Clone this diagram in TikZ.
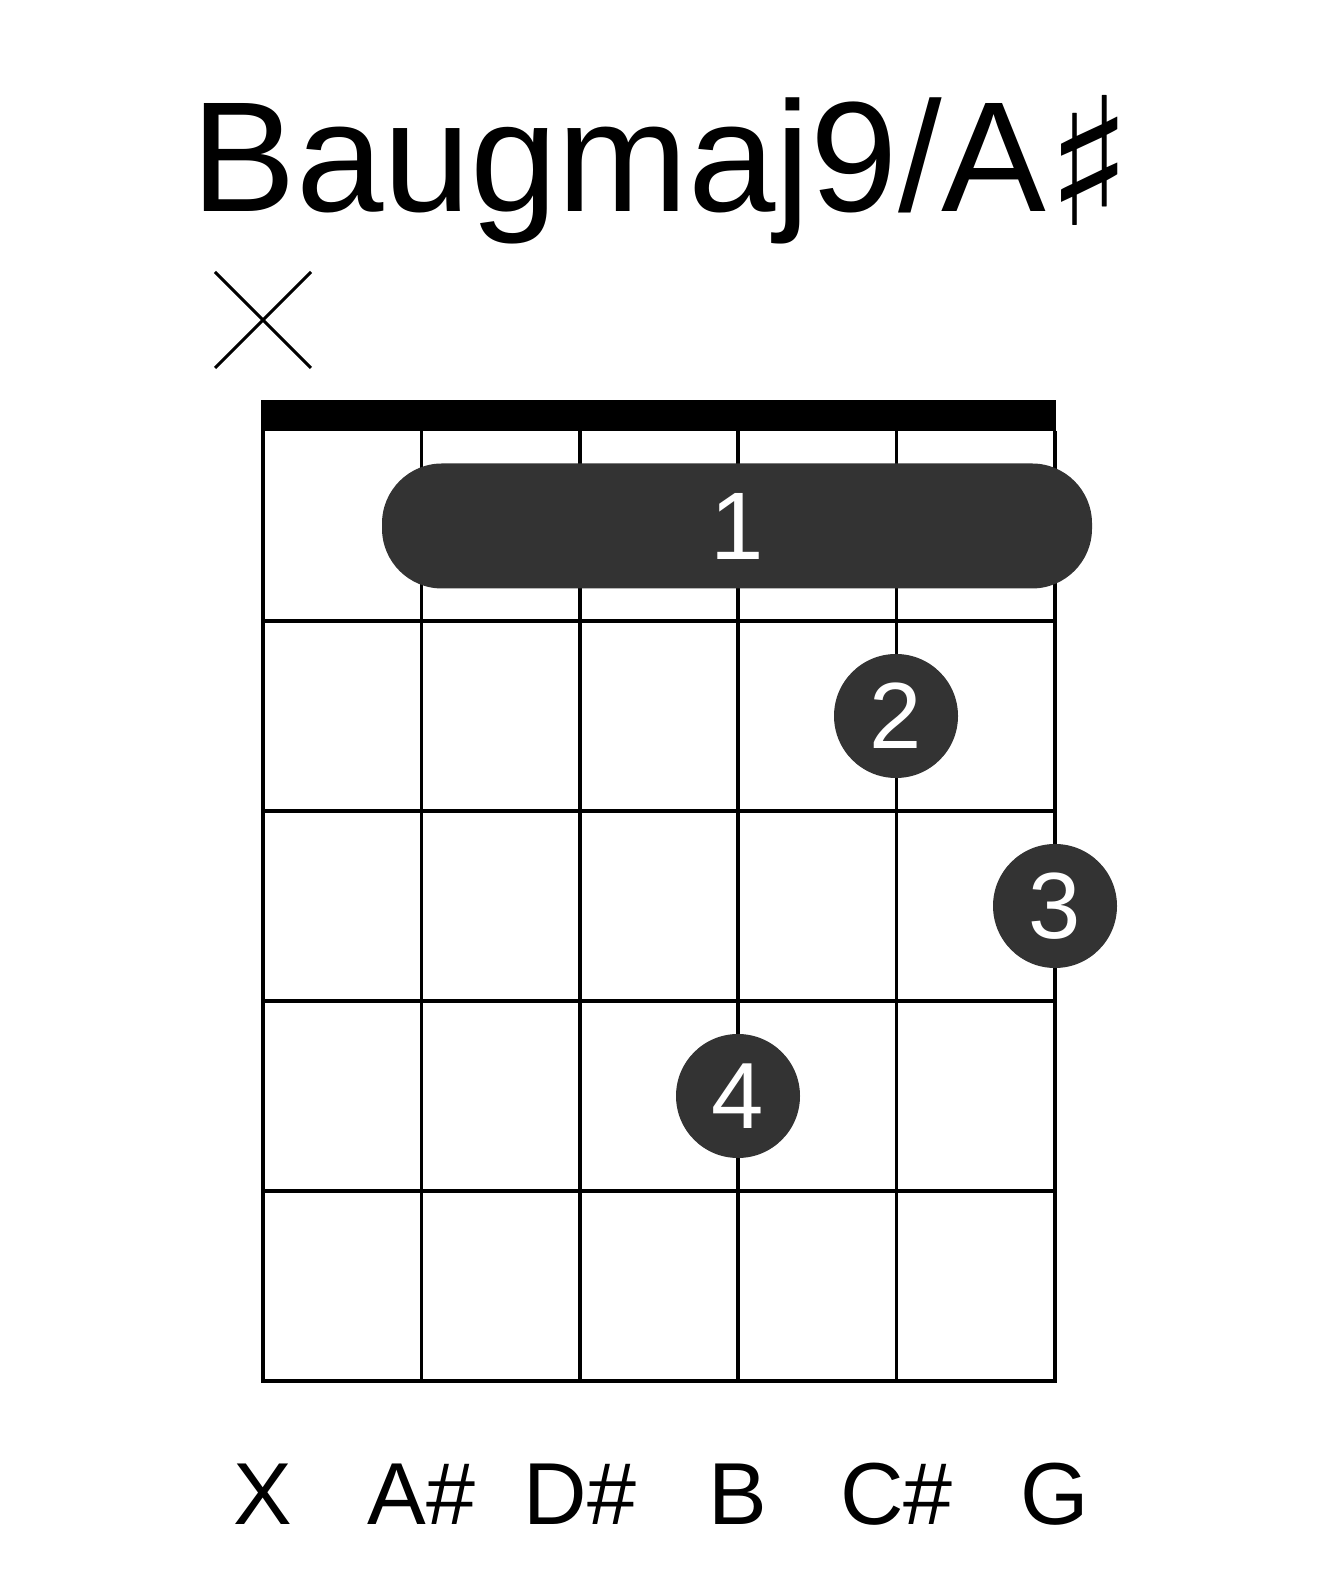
\documentclass[tikz,border=0pt]{standalone}
\usepackage{fontspec}
\setmainfont{Liberation Sans}
\newfontfamily\symbolfont{DejaVu Sans}
\usetikzlibrary{calc}
\definecolor{ChordDark}{RGB}{51,51,51}

\begin{document}
\begin{tikzpicture}[x=1bp,y=1bp,line cap=butt,line join=miter]
  \path[use as bounding box] (0,0) rectangle (1317,1581);
  \fill[white] (0,0) rectangle (1317,1581);

  \tikzset{
    gridline/.style={line width=3.5bp,draw=black},
    fingerdot/.style={circle,fill=ChordDark,minimum size=124bp,inner sep=0pt,
      text=white,font=\fontsize{94bp}{94bp}\selectfont},
    barrebar/.style={rectangle,rounded corners=60bp,fill=ChordDark,
      minimum width=710bp,minimum height=125bp,inner sep=0pt,
      text=white,font=\fontsize{96bp}{96bp}\selectfont},
    notename/.style={anchor=base,inner sep=0pt,text=black,
      font=\fontsize{88bp}{88bp}\selectfont},
  }

  % Title
  \node[anchor=base,inner sep=0pt,font=\fontsize{157bp}{157bp}\selectfont] (title) at (662,1369)
    {Baugmaj9/A\raisebox{-14bp}{\symbolfont\fontsize{178bp}{178bp}\selectfont ♯}};

  % Muted string
  \coordinate (mute) at (263,1261);
  \draw[line width=3bp] ($(mute)+(-48,-48)$) -- ($(mute)+(48,48)$);
  \draw[line width=3bp] ($(mute)+(-48,48)$) -- ($(mute)+(48,-48)$);

  % Nut
  \fill[black] (261,1150) rectangle (1056,1181);

  % Strings
  \foreach \i in {0,...,5} {
    \draw[gridline] ({263+158.4*\i},1150) -- ({263+158.4*\i},198.25);
  }

  % Frets
  \foreach \k in {1,...,5} {
    \draw[gridline] (261.25,{1150-190*\k}) -- (1056.75,{1150-190*\k});
  }

  % Barre & fingers
  \node[barrebar] (barre) at (737,1055) {1};
  \node[fingerdot] (f2) at (896,865) {2};
  \node[fingerdot] (f3) at (1055,675) {3};
  \node[fingerdot] (f4) at (738,485) {4};

  % Note names
  \foreach \i/\nm in {0/X,1/A\#,2/D\#,3/B,4/C\#,5/G} {
    \node[notename] (note\i) at ({263+158.4*\i},56) {\nm};
  }

\end{tikzpicture}
\end{document}
